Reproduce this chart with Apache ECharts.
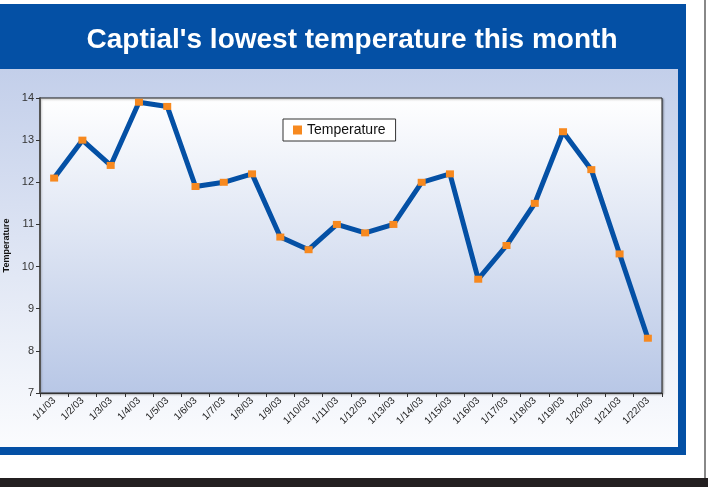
<!DOCTYPE html>
<html>
<head>
<meta charset="utf-8">
<script src="https://cdn.jsdelivr.net/npm/echarts@6/dist/echarts.min.js"></script>
<style>
  html, body { margin: 0; padding: 0; background: #fff; }
  #chart { width: 708px; height: 487px; }
</style>
</head>
<body>
<div id="chart"></div>
<script>
// daily lowest temperature
var days = ['1/1/03', '1/2/03', '1/3/03', '1/4/03', '1/5/03', '1/6/03', '1/7/03', '1/8/03',
  '1/9/03', '1/10/03', '1/11/03', '1/12/03', '1/13/03', '1/14/03', '1/15/03', '1/16/03',
  '1/17/03', '1/18/03', '1/19/03', '1/20/03', '1/21/03', '1/22/03'];
var temps = [12.1, 13.0, 12.4, 13.9, 13.8, 11.9, 12.0, 12.2, 10.7, 10.4, 11.0, 10.8,
  11.0, 12.0, 12.2, 9.7, 10.5, 11.5, 13.2, 12.3, 10.3, 8.3];
var yTicks = [7, 8, 9, 10, 11, 12, 13, 14];

var blue = '#0450a5';
var orange = '#f7891f';
var font = '"Liberation Sans", Arial, sans-serif';

var chart = echarts.init(document.getElementById('chart'), null, { renderer: 'canvas' });

chart.setOption({
  backgroundColor: '#ffffff',
  animation: false,
  graphic: [
    // outer blue frame + title band
    { type: 'rect', z: -10, silent: true, shape: { x: 0, y: 4, width: 686, height: 451 }, style: { fill: blue } },
    // inner light panel
    { type: 'rect', z: -9, silent: true, shape: { x: 0, y: 69, width: 678, height: 378 },
      style: { fill: new echarts.graphic.LinearGradient(0, 0, 0, 1, [
        { offset: 0, color: '#c3cfea' }, { offset: 1, color: '#fbfcfe' }]) } },
    // page edges at the right and bottom
    { type: 'rect', z: -10, silent: true, shape: { x: 704, y: 0, width: 2, height: 480 }, style: { fill: '#888' } },
    { type: 'rect', z: -10, silent: true, shape: { x: 0, y: 478, width: 708, height: 9 }, style: { fill: '#231f20' } },
    {
      type: 'text', x: 352, y: 40, z: 5,
      style: { text: "Captial's lowest temperature this month", fill: '#fff',
        font: 'bold 28px ' + font, align: 'center', verticalAlign: 'middle' }
    }
  ],
  legend: {
    data: ['Temperature'],
    left: 283, top: 119,
    backgroundColor: '#fff',
    borderColor: '#333',
    borderWidth: 1,
    borderRadius: 0,
    padding: [4, 10, 4, 10],
    itemWidth: 9, itemHeight: 9,
    icon: 'rect',
    textStyle: { fontFamily: font, fontSize: 14, color: '#111' }
  },
  grid: {
    left: 40, right: 46, top: 98, bottom: 94,
    outerBoundsMode: 'none',
    containLabel: false,
    show: true,
    borderColor: '#222', borderWidth: 1,
    backgroundColor: new echarts.graphic.LinearGradient(0, 0, 0, 1, [
      { offset: 0, color: '#ffffff' }, { offset: 1, color: '#b8c7e6' }]),
    shadowColor: 'rgba(0,0,0,0.35)', shadowOffsetX: 1, shadowOffsetY: 1, shadowBlur: 2
  },
  xAxis: {
    type: 'category',
    data: days,
    boundaryGap: true,
    axisLine: { lineStyle: { color: '#333', width: 1 } },
    axisTick: { show: true, length: 4, lineStyle: { color: '#333' } },
    axisLabel: { rotate: 45, fontFamily: font, fontSize: 10, color: '#222', margin: 6, interval: 0 },
    splitLine: { show: false }
  },
  yAxis: {
    type: 'value',
    min: yTicks[0], max: yTicks[yTicks.length - 1], interval: 1,
    name: 'Temperature',
    nameLocation: 'middle',
    nameGap: 22,
    nameRotate: 90,
    nameTextStyle: { fontFamily: font, fontSize: 9, color: '#111', fontWeight: 'bold' },
    axisLine: { show: true, lineStyle: { color: '#555', width: 2 } },
    axisTick: { show: true, length: 4, lineStyle: { color: '#333' } },
    axisLabel: { fontFamily: font, fontSize: 11, color: '#333', margin: 6 },
    splitLine: { show: false }
  },
  series: [{
    name: 'Temperature',
    type: 'line',
    data: temps,
    symbol: 'rect',
    symbolSize: [8, 7],
    showAllSymbol: true,
    itemStyle: { color: orange },
    lineStyle: { color: blue, width: 5 },
    z: 3
  }]
});
</script>
</body>
</html>
